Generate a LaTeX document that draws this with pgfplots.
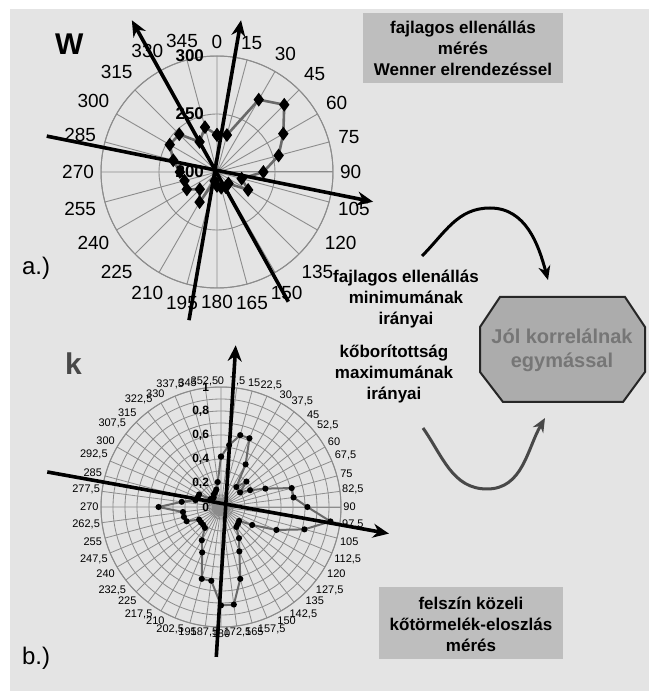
\documentclass[border=0pt]{standalone}
\usepackage{fontspec}
\setmainfont{Liberation Sans}
\usepackage{pgfplots}
\pgfplotsset{compat=1.18}
\usepackage{pgfplotstable}
\usepgfplotslibrary{polar}
\usetikzlibrary{arrows.meta}

\definecolor{bg}{RGB}{228,228,228}
\definecolor{boxgray}{RGB}{190,190,190}
\definecolor{octfill}{RGB}{172,172,172}
\definecolor{octtext}{RGB}{118,118,118}
\definecolor{gridgray}{RGB}{140,140,140}
\definecolor{seriesgray}{RGB}{105,105,105}
\definecolor{kgray}{RGB}{72,72,72}

\newcommand{\fs}[2]{\fontsize{#1}{#2}\selectfont}

% specific resistivity (Wenner array), compass bearing in degrees
\pgfplotstableread{
a r
0 232
15 233
30 272
45 282
60 266
75 255
90 240
105 222
120 231
135 214
150 215
165 214
180 212
195 208
210 230
225 221
240 230
255 229
270 232
285 239
300 247
315 246
330 230
345 240
360 232
}\wenner

% near-surface rock debris cover, compass bearing in degrees
\pgfplotstableread{
a r
0 0.42
7.5 0.52
15 0.62
22.5 0.62
30 0.41
37.5 0.21
45 0.30
52.5 0.20
60 0.28
67.5 0.40
75 0.61
82.5 0.61
90 0.72
97.5 0.92
105 0.72
112.5 0.50
120 0.30
127.5 0.19
135 0.20
142.5 0.21
150 0.30
157.5 0.40
165 0.62
172.5 0.82
180 0.82
187.5 0.62
195 0.62
202.5 0.41
210 0.32
217.5 0.22
225 0.21
232.5 0.21
240 0.21
247.5 0.31
255 0.32
262.5 0.32
270 0.52
277.5 0.33
285 0.22
292.5 0.21
300 0.21
307.5 0.11
315 0.10
322.5 0.10
330 0.12
337.5 0.13
345 0.15
352.5 0.21
360 0.42
}\kobor

\tikzset{dirarrow/.style={line width=1.8pt, black, -{Stealth[length=8pt,width=7pt]}}}

\begin{document}
\begin{tikzpicture}
\begin{scope}[x=0.5pt,y=0.5pt]
\fill[white] (0,0) rectangle (649,691);
\fill[bg] (10,0) rectangle (649,682);
\end{scope}

% ---------- a.) resistivity rose ----------
\begin{polaraxis}[
  at={(108.5pt,259.5pt)}, anchor=origin,
  scale only axis, width=116pt, height=116pt,
  xmin=0, xmax=360, ymin=0, ymax=100,
  xtick={0,15,...,345},
  xticklabels={90,75,60,45,30,15,0,345,330,315,300,285,270,255,240,225,210,195,180,165,150,135,120,105},
  ytick={50,100}, yticklabels={},
  grid=major,
  major grid style={draw=gridgray, line width=0.45pt},
  axis line style={draw=gridgray, line width=0.5pt},
  major tick length=0pt,
  xticklabel style={font=\fs{9.5}{10}},
  clip=false,
]
\addplot[seriesgray, line width=1.3pt, mark=diamond*, mark size=2.4pt,
  mark options={black, fill=black}]
  table[x expr={mod(450-\thisrow{a},360)}, y expr={\thisrow{r}-200}] {\wenner};
\node[anchor=east, font=\bfseries\fs{8.5}{9}, xshift=-3pt] at (axis cs:90,0) {200};
\node[anchor=east, font=\bfseries\fs{8.5}{9}, xshift=-3pt] at (axis cs:90,50) {250};
\node[anchor=east, font=\bfseries\fs{8.5}{9}, xshift=-3pt] at (axis cs:90,100) {300};
\draw[dirarrow] (axis cs:259.3,130) -- (axis cs:81,132.5);
\draw[dirarrow] (axis cs:298.8,127.6) -- (axis cs:119.3,150);
\draw[dirarrow] (axis cs:168.1,150) -- (axis cs:349.2,137);
\end{polaraxis}

% ---------- b.) debris cover rose ----------
\begin{polaraxis}[
  at={(110.5pt,92pt)}, anchor=origin,
  scale only axis, width=120pt, height=120pt,
  xmin=0, xmax=360, ymin=0, ymax=1,
  xtick={0,7.5,...,352.5},
  xticklabels={90,{82,5},75,{67,5},60,{52,5},45,{37,5},30,{22,5},15,{7,5},0,{352,5},345,{337,5},330,{322,5},315,{307,5},300,{292,5},285,{277,5},270,{262,5},255,{247,5},240,{232,5},225,{217,5},210,{202,5},195,{187,5},180,{172,5},165,{157,5},150,{142,5},135,{127,5},120,{112,5},105,{97,5}},
  ytick={0.1,0.2,0.3,0.4,0.5,0.6,0.7,0.8,0.9,1}, yticklabels={},
  grid=major,
  major grid style={draw=gridgray, line width=0.4pt},
  axis line style={draw=gridgray, line width=0.5pt},
  major tick length=0pt,
  xticklabel style={font=\fs{5.5}{6}, inner sep=1pt},
  clip=false,
]
\addplot[seriesgray, line width=1pt, mark=*, mark size=1pt,
  mark options={black, fill=black}]
  table[x expr={mod(450-\thisrow{a},360)}, y=r] {\kobor};
\node[anchor=east, font=\bfseries\fs{6}{7}, xshift=-2.5pt] at (axis cs:90,0) {0};
\node[anchor=east, font=\bfseries\fs{6}{7}, xshift=-2.5pt] at (axis cs:90,0.2) {0,2};
\node[anchor=east, font=\bfseries\fs{6}{7}, xshift=-2.5pt] at (axis cs:90,0.4) {0,4};
\node[anchor=east, font=\bfseries\fs{6}{7}, xshift=-2.5pt] at (axis cs:90,0.6) {0,6};
\node[anchor=east, font=\bfseries\fs{6}{7}, xshift=-2.5pt] at (axis cs:90,0.8) {0,8};
\node[anchor=east, font=\bfseries\fs{6}{7}, xshift=-2.5pt] at (axis cs:90,1) {1};
\draw[dirarrow] (axis cs:268.2,1.25) -- (axis cs:84.8,1.353);
\draw[dirarrow] (axis cs:168.6,1.477) -- (axis cs:351,1.417);
\end{polaraxis}

\begin{scope}[x=0.5pt,y=0.5pt]
% ---------- labels ----------
\node[anchor=base west, font=\bfseries\fs{15}{15}] at (48,636) {W};
\node[anchor=base west, font=\bfseries\fs{15}{15}, text=kgray] at (58,316) {k};
\node[anchor=base west, font=\fs{12}{12}] at (15,416) {a.)};
\node[anchor=base west, font=\fs{12}{12}] at (15,26) {b.)};

\fill[boxgray] (363,608) rectangle (563,678);
\node[align=center, font=\bfseries\fs{8.5}{10.5}] at (463,643)
  {fajlagos ellenállás\\mérés\\Wenner elrendezéssel};

\fill[boxgray] (379,32) rectangle (563,104);
\node[align=center, font=\bfseries\fs{8.5}{10.5}] at (471,67)
  {felszín közeli\\kőtörmelék-eloszlás\\mérés};

\node[align=center, font=\bfseries\fs{8.5}{10.5}] at (406,392)
  {fajlagos ellenállás\\minimumának\\irányai};
\node[align=center, font=\bfseries\fs{8.5}{10.5}] at (394,317)
  {kőborítottság\\maximumának\\irányai};

\filldraw[fill=octfill, draw=black!85, line width=1pt]
  (500,394) -- (625,394) -- (645,364) -- (645,319) -- (623,289)
  -- (503,289) -- (480,319) -- (480,364) -- cycle;
\node[align=center, font=\bfseries\fs{10}{12}, text=octtext] at (562,341)
  {Jól korrelálnak\\egymással};

\draw[line width=1.5pt, black, -{Stealth[length=7pt,width=6pt]}]
  (422,435) to[out=45,in=180] (490,483) to[out=0,in=105] (548,411);
\draw[line width=1.5pt, kgray, -{Stealth[length=7pt,width=6pt]}]
  (423,263) to[out=-55,in=180] (487,202) to[out=0,in=-120] (545,273);
\end{scope}
\end{tikzpicture}
\end{document}
